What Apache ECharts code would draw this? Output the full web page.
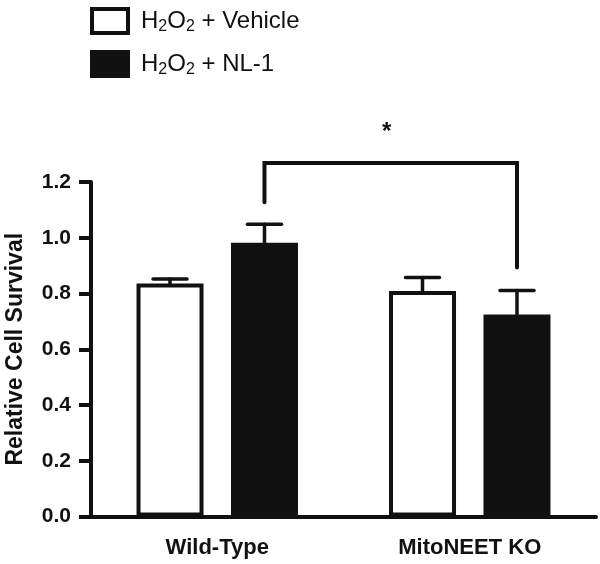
<!DOCTYPE html>
<html>
<head>
<meta charset="utf-8">
<script src="https://cdn.jsdelivr.net/npm/echarts@6/dist/echarts.min.js"></script>
<style>html,body{margin:0;padding:0;background:#fff}#chart{width:600px;height:564px}</style>
</head>
<body>
<div id="chart"></div>
<script>
// values
const categories = ['Wild-Type', 'MitoNEET KO'];
const vehicleMean = [0.836, 0.809];
const vehicleErr = [0.016, 0.048];
const nl1Mean = [0.982, 0.725];
const nl1Err = [0.066, 0.086];
const yTicks = [0, 0.2, 0.4, 0.6, 0.8, 1.0, 1.2];
const bracketLevel = 1.268;
const sigMark = '*';

const INK = '#111';
const FONT = '"Liberation Sans", Arial, sans-serif';
const BAR_W = 67;
const BAR_GAP = 0.41;
const OFFSET = BAR_W * (1 + BAR_GAP) / 2;

// upward-only error bar drawn over each bar
function errSeries(name, means, errs, dx) {
    return {
        type: 'custom',
        name: name + ' err',
        z: 5,
        silent: true,
        data: means.map((m, i) => [i, m, errs[i]]),
        renderItem(params, api) {
            const base = api.coord([api.value(0), api.value(1)]);
            const top = api.coord([api.value(0), api.value(1) + api.value(2)]);
            const x = base[0] + dx;
            const st = { stroke: INK, lineWidth: 3.5, lineCap: 'round' };
            return {
                type: 'group',
                children: [
                    { type: 'line', shape: { x1: x, y1: base[1], x2: x, y2: top[1] }, style: st },
                    { type: 'line', shape: { x1: x - 17, y1: top[1], x2: x + 17, y2: top[1] }, style: st }
                ]
            };
        }
    };
}

const chart = echarts.init(document.getElementById('chart'));

const sub = name => name.replace(/^H2O2/, '{n0|H}{s|2}{n|O}{s|2}{n|') + '}';

chart.setOption({
    animation: false,
    backgroundColor: '#fff',
    textStyle: { fontFamily: FONT, color: INK },
    legend: {
        orient: 'vertical',
        left: 85,
        top: 2,
        itemWidth: 36,
        itemHeight: 24,
        itemGap: 15,
        icon: 'rect',
        itemStyle: { borderWidth: 4, borderColor: INK },
        formatter: sub,
        textStyle: {
            rich: {
                n0: { fontSize: 24, fontFamily: FONT, color: INK, padding: [0, 0, 0, 8] },
                n: { fontSize: 24, fontFamily: FONT, color: INK },
                s: { fontSize: 16, fontFamily: FONT, color: INK, padding: [12, 0, 0, 0] }
            }
        },
        data: ['H2O2 + Vehicle', 'H2O2 + NL-1']
    },
    grid: { left: 91, right: 4, top: 182, bottom: 47.5, outerBoundsMode: 'none' },
    xAxis: {
        type: 'category',
        data: categories,
        axisLine: { lineStyle: { color: INK, width: 4 } },
        axisTick: { alignWithLabel: true, length: 10, lineStyle: { color: INK, width: 4 } },
        axisLabel: { fontSize: 22, fontWeight: 'bold', color: INK, fontFamily: FONT, margin: 20 }
    },
    yAxis: {
        type: 'value',
        min: yTicks[0],
        max: yTicks[yTicks.length - 1],
        interval: yTicks[1] - yTicks[0],
        name: 'Relative Cell Survival',
        nameLocation: 'middle',
        nameGap: 64,
        nameTextStyle: { fontSize: 23, fontWeight: 'bold', color: INK, fontFamily: FONT },
        axisLine: { show: true, lineStyle: { color: INK, width: 4 } },
        axisTick: { show: true, length: 12, lineStyle: { color: INK, width: 4 } },
        axisLabel: {
            fontSize: 21, fontWeight: 'bold', color: INK, fontFamily: FONT, margin: 20,
            formatter: v => v.toFixed(1)
        },
        splitLine: { show: false }
    },
    series: [
        {
            type: 'bar',
            name: 'H2O2 + Vehicle',
            data: vehicleMean,
            barWidth: BAR_W,
            barGap: (BAR_GAP * 100) + '%',
            itemStyle: { color: '#fff', borderColor: INK, borderWidth: 4 }
        },
        {
            type: 'bar',
            name: 'H2O2 + NL-1',
            data: nl1Mean,
            barWidth: BAR_W,
            barGap: (BAR_GAP * 100) + '%',
            itemStyle: { color: INK, borderColor: INK, borderWidth: 4 }
        },
        errSeries('vehicle', vehicleMean, vehicleErr, -OFFSET),
        errSeries('nl1', nl1Mean, nl1Err, OFFSET),
        {
            // significance bracket between the two NL-1 bars
            type: 'custom',
            z: 6,
            silent: true,
            clip: false,
            data: [[0, 1, bracketLevel]],
            renderItem(params, api) {
                const a = api.value(0), b = api.value(1);
                const pa = api.coord([a, nl1Mean[a] + nl1Err[a]]);
                const pb = api.coord([b, nl1Mean[b] + nl1Err[b]]);
                const lvl = api.coord([a, api.value(2)])[1];
                const x0 = pa[0] + OFFSET, x1 = pb[0] + OFFSET;
                return {
                    type: 'group',
                    children: [
                        {
                            type: 'polyline',
                            shape: { points: [[x0, pa[1] - 22], [x0, lvl], [x1, lvl], [x1, pb[1] - 23]] },
                            style: { stroke: INK, lineWidth: 4, fill: null, lineCap: 'round' }
                        },
                        {
                            type: 'text',
                            x: (x0 + x1) / 2 - 4,
                            y: lvl - 31,
                            style: {
                                text: sigMark, fontSize: 24, fontWeight: 'bold', fontFamily: FONT,
                                fill: INK, align: 'center', verticalAlign: 'middle'
                            }
                        }
                    ]
                };
            }
        }
    ]
});
</script>
</body>
</html>
